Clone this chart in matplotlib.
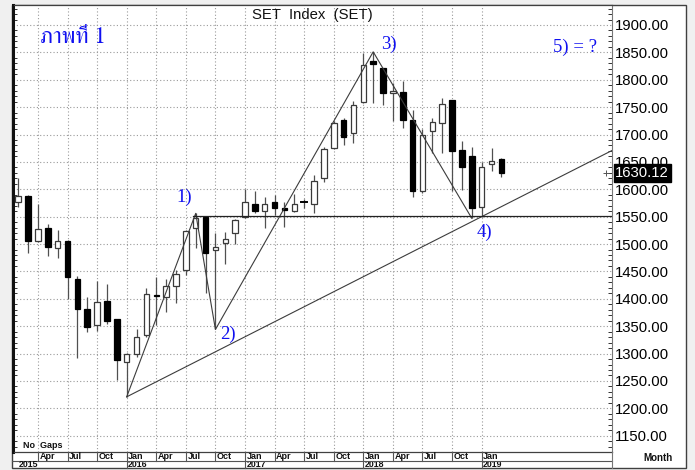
import matplotlib
matplotlib.use("Agg")
import matplotlib.pyplot as plt
from matplotlib import font_manager
from matplotlib.ft2font import FT2Font
from matplotlib.transforms import blended_transform_factory
from matplotlib.patches import Rectangle
from matplotlib.lines import Line2D
from matplotlib.ticker import FormatStrFormatter, MultipleLocator

# ---------------- data ----------------
months = [
    "Feb 2015", "Mar 2015", "Apr 2015", "May 2015", "Jun 2015", "Jul 2015", "Aug 2015", "Sep 2015",
    "Oct 2015", "Nov 2015", "Dec 2015",
    "Jan 2016", "Feb 2016", "Mar 2016", "Apr 2016", "May 2016", "Jun 2016", "Jul 2016", "Aug 2016",
    "Sep 2016", "Oct 2016", "Nov 2016", "Dec 2016",
    "Jan 2017", "Feb 2017", "Mar 2017", "Apr 2017", "May 2017", "Jun 2017", "Jul 2017", "Aug 2017",
    "Sep 2017", "Oct 2017", "Nov 2017", "Dec 2017",
    "Jan 2018", "Feb 2018", "Mar 2018", "Apr 2018", "May 2018", "Jun 2018", "Jul 2018", "Aug 2018",
    "Sep 2018", "Oct 2018", "Nov 2018", "Dec 2018",
    "Jan 2019", "Feb 2019", "Mar 2019",
]
opens = [1576, 1588, 1505, 1530, 1492, 1506, 1436, 1382, 1353, 1396, 1363,
         1285, 1300, 1334, 1407, 1403, 1423, 1452, 1530, 1549, 1490, 1501, 1521,
         1549, 1574, 1561, 1577, 1565, 1560, 1576, 1574, 1620, 1676, 1727, 1703,
         1759, 1834, 1821, 1775, 1777, 1727, 1597, 1706, 1721, 1763, 1671, 1661,
         1568, 1646, 1656]
highs = [1620, 1590, 1574, 1536, 1525, 1507, 1442, 1403, 1432, 1427, 1364,
         1301, 1345, 1419, 1439, 1437, 1452, 1525, 1556, 1550, 1521, 1522, 1545,
         1600, 1596, 1585, 1590, 1576, 1591, 1582, 1626, 1678, 1724, 1730, 1762,
         1848, 1851, 1822, 1794, 1798, 1745, 1710, 1730, 1766, 1763, 1689, 1678,
         1649, 1675, 1657]
lows = [1568, 1484, 1503, 1478, 1475, 1400, 1291, 1340, 1341, 1354, 1252,
        1221, 1294, 1331, 1352, 1376, 1393, 1443, 1492, 1411, 1344, 1463, 1500,
        1547, 1556, 1529, 1553, 1532, 1558, 1565, 1556, 1614, 1673, 1681, 1685,
        1757, 1758, 1754, 1725, 1711, 1585, 1594, 1666, 1666, 1596, 1599, 1547,
        1550, 1633, 1623]
closes = [1587, 1506, 1527, 1495, 1505, 1439, 1382, 1349, 1395, 1360, 1288,
          1300, 1331, 1408, 1405, 1424, 1445, 1523, 1547, 1483, 1495, 1509, 1543,
          1576, 1560, 1574, 1565, 1562, 1574, 1576, 1616, 1673, 1721, 1696, 1753,
          1827, 1829, 1776, 1780, 1727, 1596, 1700, 1722, 1755, 1669, 1641, 1565,
          1641, 1652, 1630]
last_price = 1630.12

pivot_months = ["Jan 2016", "Aug 2016", "Oct 2016", "Feb 2018", "Dec 2018"]
pivot_prices = [1221, 1556, 1344, 1851, 1547]
trend_months = ["Jan 2016", "Jan 2019"]
trend_prices = [1221, 1550]
resistance_start = "Aug 2016"
resistance_price = 1551

y_ticks = list(range(1150, 1901, 50))

# ---------------- fonts ----------------
def find_thai_family():
    cands = []
    for f in font_manager.fontManager.ttflist:
        try:
            cmap = FT2Font(f.fname).get_charmap()
        except Exception:
            continue
        if 0x0E20 in cmap and 0x0E17 in cmap and 0x0E35 in cmap:
            cands.append(f.name)
    for c in cands:
        if "Serif" in c or "Norasi" in c:
            return c
    return cands[0] if cands else None

thai_family = find_thai_family()
plt.rcParams["font.family"] = ["Liberation Sans", "DejaVu Sans"]

# ---------------- figure ----------------
W, H = 695, 470
fig = plt.figure(figsize=(W / 100, H / 100), dpi=100, facecolor="#f0f0f0")

def fx(px):
    return px / W

def fy(py):
    return 1 - py / H

panel = Rectangle((fx(12), fy(468)), fx(685.5) - fx(12), fy(5) - fy(468),
                  transform=fig.transFigure, facecolor="white", edgecolor="#404040",
                  lw=1.0, zorder=0)
fig.add_artist(panel)

ax = fig.add_axes([fx(13.5), fy(451.7), fx(611.7) - fx(13.5), fy(5) - fy(451.7)])
ax.set_facecolor("white")

x = list(range(len(months)))
ax.set_xlim(-0.48, 60.19)
ax.set_ylim(1120.8, 1936.5)

# quarter gridlines
quarters = [i for i, m in enumerate(months) if m.split()[0] in ("Jan", "Apr", "Jul", "Oct")]
jans = [i for i, m in enumerate(months) if m.startswith("Jan")]
ax.set_xticks(quarters)
ax.set_yticks(y_ticks)
ax.yaxis.set_minor_locator(MultipleLocator(10))
ax.grid(True, which="major", color="#9a9a9a", linestyle=(0, (1, 2)), linewidth=0.8)
ax.set_axisbelow(True)
ax.tick_params(axis="x", length=0, labelbottom=False)
ax.yaxis.tick_right()
ax.yaxis.set_major_formatter(FormatStrFormatter("%.2f"))
ax.tick_params(axis="y", which="major", length=0, pad=2.5, labelsize=10.7,
               right=True, left=False, labelright=True, labelleft=False)
ax.tick_params(axis="y", which="minor", left=True, right=True, direction="in",
               length=3, width=0.7, color="#333333")

for s in ("top", "bottom"):
    ax.spines[s].set_color("#404040")
    ax.spines[s].set_linewidth(0.9)
ax.spines["left"].set_color("#111111")
ax.spines["left"].set_linewidth(2.2)
ax.spines["right"].set_color("#777777")
ax.spines["right"].set_linewidth(0.8)

# candles
bw = 0.56
for i in x:
    o, h, l, c = opens[i], highs[i], lows[i], closes[i]
    ax.plot([i, i], [l, h], color="#505050", lw=0.9, zorder=2, solid_capstyle="butt")
    lo, hi = min(o, c), max(o, c)
    if hi - lo < 1.0:
        ax.plot([i - bw / 2, i + bw / 2], [o, o], color="black", lw=1.4, zorder=3)
    elif c >= o:
        ax.add_patch(Rectangle((i - bw / 2, lo), bw, hi - lo, facecolor="white",
                               edgecolor="#3a3a3a", lw=0.9, zorder=3))
    else:
        ax.add_patch(Rectangle((i - bw / 2, lo), bw, hi - lo, facecolor="black",
                               edgecolor="black", lw=0.9, zorder=3))

# pattern lines
px_ = [months.index(m) for m in pivot_months]
ax.plot(px_, pivot_prices, color="#3c3c3c", lw=0.8, zorder=4)
t0, t1 = months.index(trend_months[0]), months.index(trend_months[1])
slope = (trend_prices[1] - trend_prices[0]) / (t1 - t0)
xe = 60.19
ax.plot([t0, xe], [trend_prices[0], trend_prices[0] + slope * (xe - t0)],
        color="#3c3c3c", lw=0.8, zorder=4)
ax.plot([months.index(resistance_start) - 0.3, xe], [resistance_price, resistance_price],
        color="#222222", lw=0.9, zorder=4)

# annotations
blue = "#1010f0"
serif = ["Liberation Serif", "DejaVu Serif"]
for lab, (lx, ly) in zip(["1)", "2)", "3)", "4)"],
                         [(16.86, 1586), (21.3, 1336), (37.55, 1865), (47.24, 1522)]):
    ax.text(lx, ly, lab, color=blue, fontsize=13.5, family=serif,
            ha="center", va="center", zorder=6)
ax.text(56.5, 1860, "5) = ?", color=blue, fontsize=13.5, family=serif,
        ha="center", va="center", zorder=6)
thai_fams = ([thai_family] if thai_family else []) + serif
ax.text(2.2, 1867, "ภาพที่ 1", color=blue, fontsize=16.5, family=thai_fams,
        ha="left", va="baseline", zorder=6)

ax.text(0.5, 1.0 - 10 / 446.7, "SET  Index  (SET)", transform=ax.transAxes,
        ha="center", va="center", fontsize=10.7, color="#111111", zorder=6)

ax.text(fx(23), fy(446), "No  Gaps", transform=fig.transFigure, fontsize=6.5,
        fontweight="bold", ha="left", va="center", color="#111111")

# last price box
tr_ay = blended_transform_factory(ax.transAxes, ax.transData)
ax.text(1.006, last_price, f"{last_price:.2f}", transform=tr_ay, color="white",
        fontsize=10.7, ha="left", va="center", zorder=7, clip_on=False,
        bbox=dict(facecolor="black", edgecolor="black", boxstyle="square,pad=0.12"))
ax.plot([0.99], [last_price], transform=tr_ay, marker="+", color="#555555",
        markersize=4, mew=0.7, clip_on=False)

# bottom date rows
trx = blended_transform_factory(ax.transData, fig.transFigure)
for q in quarters:
    fig.add_artist(Line2D([q, q], [fy(451.7), fy(460.5)], transform=trx,
                          color="#555555", lw=0.8))
    ax.text(q + 0.15, fy(456.2), months[q].split()[0], transform=trx, fontsize=6.5,
            fontweight="bold", ha="left", va="center", color="#111111", clip_on=False)
for j in jans:
    fig.add_artist(Line2D([j, j], [fy(460.5), fy(468)], transform=trx,
                          color="#555555", lw=0.8))
    ax.text(j + 0.15, fy(464.6), months[j].split()[1], transform=trx, fontsize=6.3,
            fontweight="bold", ha="left", va="center", color="#111111", clip_on=False)
fig.text(fx(19), fy(464.6), months[0].split()[1], fontsize=6.3, fontweight="bold",
         ha="left", va="center", color="#111111")
fig.add_artist(Line2D([fx(12), fx(611.7)], [fy(460.5), fy(460.5)],
                      transform=fig.transFigure, color="#555555", lw=0.8))
fig.add_artist(Line2D([fx(611.7), fx(611.7)], [fy(451.7), fy(468)],
                      transform=fig.transFigure, color="#777777", lw=0.8))
fig.text(fx(657.5), fy(458), "Month", fontsize=7, fontweight="bold",
         ha="center", va="center", color="#111111")

fig.savefig("out.png", dpi=100, facecolor=fig.get_facecolor())
